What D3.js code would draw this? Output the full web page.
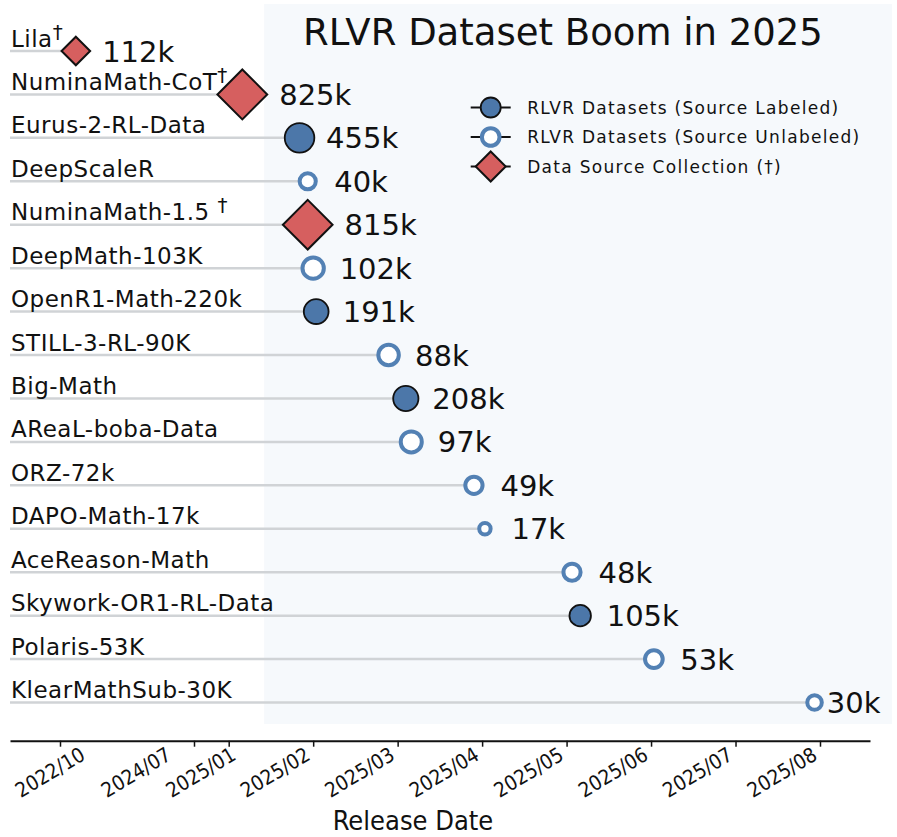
<!DOCTYPE html>
<html>
<head>
<meta charset="utf-8">
<script src="https://cdn.jsdelivr.net/npm/d3@7/dist/d3.min.js"></script>
<style>
  body { margin: 0; background: #fff; }
  text { font-family: "DejaVu Sans", Verdana, sans-serif; fill: #111; }
  .cond { font-family: "DejaVu Sans Condensed", "DejaVu Sans", sans-serif; font-stretch: condensed; }
</style>
</head>
<body>
<svg id="chart" width="897" height="837"></svg>
<script>
// datasets, top to bottom
const names = [
  "Lila†", "NuminaMath-CoT†", "Eurus-2-RL-Data", "DeepScaleR", "NuminaMath-1.5 †",
  "DeepMath-103K", "OpenR1-Math-220k", "STILL-3-RL-90K", "Big-Math", "AReaL-boba-Data",
  "ORZ-72k", "DAPO-Math-17k", "AceReason-Math", "Skywork-OR1-RL-Data", "Polaris-53K",
  "KlearMathSub-30K"
];
// release dates as placed on the chart
const dates = [
  "2022-12-16", "2025-01-06", "2025-01-27", "2025-01-30", "2025-01-30",
  "2025-02-01", "2025-02-02", "2025-02-26", "2025-03-04", "2025-03-06",
  "2025-03-29", "2025-04-02", "2025-05-03", "2025-05-06", "2025-06-02",
  "2025-07-30"
];
// number of samples (thousands)
const sizesK = [112, 825, 455, 40, 815, 102, 191, 88, 208, 97, 49, 17, 48, 105, 53, 30];
const kinds = [
  "collection", "collection", "labeled", "unlabeled", "collection",
  "unlabeled", "labeled", "unlabeled", "labeled", "unlabeled",
  "unlabeled", "unlabeled", "unlabeled", "labeled", "unlabeled",
  "unlabeled"
];
const tickDates = ["2022-10-01", "2024-07-01", "2025-01-01", "2025-02-01", "2025-03-01",
  "2025-04-01", "2025-05-01", "2025-06-01", "2025-07-01", "2025-08-01"];
const tickLabels = ["2022/10", "2024/07", "2025/01", "2025/02", "2025/03",
  "2025/04", "2025/05", "2025/06", "2025/07", "2025/08"];
// the first labels sit a little off their ticks in the original
const tickLabelShift = [28, -20, 10, 0, 0, 0, 0, 0, 0, 0];
const legendLabels = ["RLVR Datasets (Source Labeled)", "RLVR Datasets (Source Unlabeled)", "Data Source Collection (\u2020)"];
const legendKinds = ["labeled", "unlabeled", "collection"];
const highlightFrom = "2025-01-14";

const W = 897, H = 837;
const blue = "#4c77a9", ringBlue = "#5381b4", red = "#d65f5f";

// fractional month index, 0 = January 2025
function monthIndex(s) {
  const [y, m, d] = s.split("-").map(Number);
  const days = new Date(y, m, 0).getDate();
  return (y - 2025) * 12 + (m - 1) + (d - 1) / days;
}

const data = names.map((n, i) => ({
  name: n, m: monthIndex(dates[i]), k: sizesK[i], kind: kinds[i]
}));

const svg = d3.select("#chart");

// piecewise axis: older dates squeezed, 2025 one slot per month
const x = d3.scaleLinear()
  .domain([-34.84, -27, -6, 0, 7.592])
  .range([10, 60, 194, 228.7, 870]);
const y = d3.scalePoint().domain(names).range([51, 702.5]);
const rCircle = d3.scaleLog().domain([17, 455]).range([5.7, 14.8]);
const rDiamond = d3.scaleLog().domain([112, 825]).range([14.3, 24.9]);

// shaded 2025 area
svg.append("rect")
  .attr("x", x(monthIndex(highlightFrom)))
  .attr("y", 4)
  .attr("width", W - 5 - x(monthIndex(highlightFrom)))
  .attr("height", 720)
  .attr("fill", "#f6f9fc");

svg.append("text")
  .attr("x", 563).attr("y", 45)
  .attr("text-anchor", "middle")
  .style("font-size", "37px")
  .text("RLVR Dataset Boom in 2025");

// stems
svg.append("g").selectAll("line")
  .data(data).enter().append("line")
  .attr("x1", x.range()[0])
  .attr("x2", d => x(d.m))
  .attr("y1", d => y(d.name))
  .attr("y2", d => y(d.name))
  .attr("stroke", "#d0d3d6")
  .attr("stroke-width", 2.5);

// dataset names (dagger raised)
const nameT = svg.append("g").selectAll("text")
  .data(data).enter().append("text")
  .attr("x", 11)
  .attr("y", d => y(d.name) - 4.5)
  .style("font-size", "23px")
  .style("letter-spacing", "0.5px");
nameT.append("tspan").text(d => d.name.replace("†", ""));
nameT.filter(d => d.name.includes("†")).append("tspan")
  .attr("dy", -8)
  .style("font-size", "20px")
  .text("†");

function drawMarker(g, kind, k, sizeFn) {
  if (kind === "collection") {
    const h = sizeFn ? sizeFn(k) : rDiamond(k);
    g.append("path")
      .attr("d", `M0,${-h}L${h},0L0,${h}L${-h},0Z`)
      .attr("fill", red).attr("stroke", "#111").attr("stroke-width", 2);
  } else if (kind === "labeled") {
    g.append("circle").attr("r", sizeFn ? sizeFn(k) : rCircle(k))
      .attr("fill", blue).attr("stroke", "#111").attr("stroke-width", 1.8);
  } else {
    g.append("circle").attr("r", sizeFn ? sizeFn(k) : rCircle(k))
      .attr("fill", "#fff").attr("stroke", ringBlue).attr("stroke-width", 4);
  }
}

const pts = svg.append("g").selectAll("g")
  .data(data).enter().append("g")
  .attr("transform", d => `translate(${x(d.m)},${y(d.name)})`);
pts.each(function(d) { drawMarker(d3.select(this), d.kind, d.k); });

// value labels
pts.append("text")
  .attr("y", 10.5)
  .style("font-size", "29px")
  .text(d => `${d.k}k`)
  .attr("x", function(d) {
    const w = this.getComputedTextLength();
    const cx = x(d.m);
    if (d.kind === "collection") return rDiamond(d.k) + 12;
    if (cx + 26.5 + w > W - 10) return rCircle(d.k) + 5;
    return 26.5;
  });

// legend
const leg = svg.append("g").attr("transform", "translate(490.7,0)");
legendLabels.forEach((lab, i) => {
  const g = leg.append("g").attr("transform", `translate(0,${107.5 + i * 29.5})`);
  g.append("line").attr("x1", -20).attr("x2", 20)
    .attr("stroke", "#111").attr("stroke-width", 2);
  drawMarker(g, legendKinds[i], 0, () => legendKinds[i] === "collection" ? 15 : (legendKinds[i] === "labeled" ? 10 : 8.8));
  g.append("text")
    .attr("x", 36.5).attr("y", 6)
    .style("font-size", "17px")
    .style("letter-spacing", "1.3px")
    .text(lab);
});

// x axis
const axis = d3.axisBottom(x)
  .tickValues(tickDates.map(monthIndex))
  .tickFormat((d, i) => tickLabels[i])
  .tickSize(6)
  .tickSizeOuter(0);
const ax = svg.append("g")
  .attr("transform", "translate(0,740.7)")
  .call(axis);
ax.select(".domain").attr("stroke", "#111").attr("stroke-width", 2);
ax.selectAll(".tick line").attr("stroke", "#111").attr("stroke-width", 1.5);
ax.selectAll(".tick text")
  .attr("class", "cond")
  .attr("x", 0).attr("y", 0).attr("dy", 0)
  .attr("text-anchor", "end")
  .attr("transform", (d, i) => `translate(${tickLabelShift[i] - 2},18) rotate(-31)`)
  .style("font-size", "20.5px")
  .attr("fill", "#111");

svg.append("text")
  .attr("class", "cond")
  .attr("x", 413).attr("y", 830)
  .attr("text-anchor", "middle")
  .style("font-size", "27px")
  .text("Release Date");
</script>
</body>
</html>
